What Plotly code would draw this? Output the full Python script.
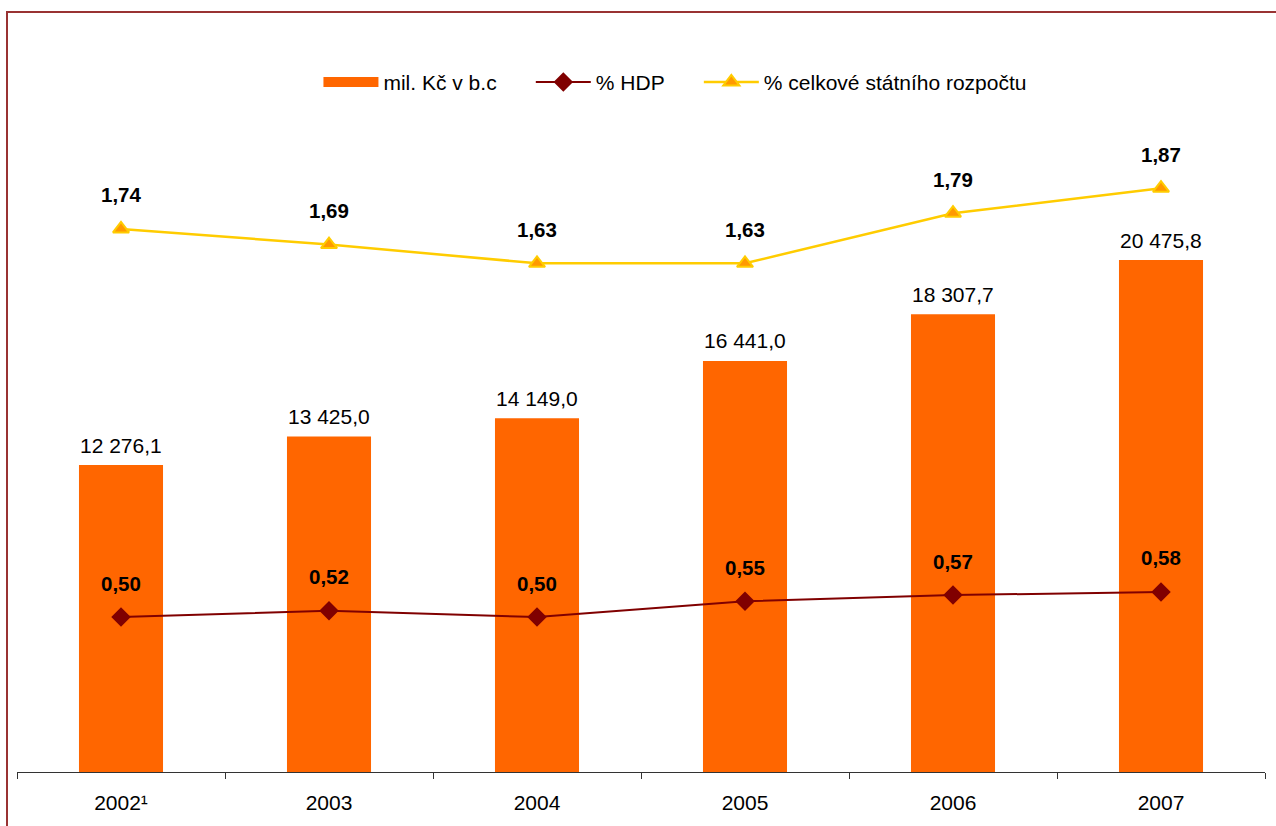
import plotly.graph_objects as go

years = ["2002¹", "2003", "2004", "2005", "2006", "2007"]
mil_kc = [12276.1, 13425.0, 14149.0, 16441.0, 18307.7, 20475.8]
pct_hdp = [0.50, 0.52, 0.50, 0.55, 0.57, 0.58]
pct_rozpocet = [1.74, 1.69, 1.63, 1.63, 1.79, 1.87]

FONT = "Liberation Sans, Arial, sans-serif"
PAD = "\u00a0" * 5

def fmt_thousands(v):
    s = f"{v:,.1f}"
    return s.replace(",", " ").replace(".", ",")

def fmt2(v):
    return f"{v:.2f}".replace(".", ",")

fig = go.Figure()
fig.add_trace(go.Bar(
    x=years, y=mil_kc, name="mil. Kč v b.c",
    marker=dict(color="#FF6600", line=dict(width=0)),
    yaxis="y", showlegend=False, legendgroup="bar",
))
# legend entry for the bars (wide rectangle swatch as in the original)
fig.add_trace(go.Scatter(
    x=[None], y=[None], name="mil. Kč v b.c" + PAD, mode="lines",
    line=dict(color="#FF6600", width=14), legendgroup="bar", hoverinfo="skip",
))
fig.add_trace(go.Scatter(
    x=years, y=pct_hdp, name="% HDP" + PAD, mode="lines+markers",
    line=dict(color="#800000", width=2),
    marker=dict(symbol="diamond", size=15, color="#800000"),
    yaxis="y2",
))
fig.add_trace(go.Scatter(
    x=years, y=pct_rozpocet, name="% celkové státního rozpočtu", mode="lines+markers",
    line=dict(color="#FFCC00", width=2.5),
    marker=dict(symbol="triangle-up", size=14, color="#FF9900",
                line=dict(color="#FFCC00", width=2)),
    yaxis="y2",
))

annotations = []
for i, v in enumerate(mil_kc):
    annotations.append(dict(x=i, y=v, xref="x", yref="y", text=fmt_thousands(v),
                            showarrow=False, yanchor="middle", yshift=20,
                            font=dict(family=FONT, size=21, color="black")))
for i, v in enumerate(pct_hdp):
    annotations.append(dict(x=i, y=v, xref="x", yref="y2", text=f"<b>{fmt2(v)}</b>",
                            showarrow=False, yanchor="middle", yshift=34,
                            font=dict(family=FONT, size=20.5, color="black")))
for i, v in enumerate(pct_rozpocet):
    annotations.append(dict(x=i, y=v, xref="x", yref="y2", text=f"<b>{fmt2(v)}</b>",
                            showarrow=False, yanchor="middle", yshift=34,
                            font=dict(family=FONT, size=20.5, color="black")))

fig.update_layout(
    width=1276, height=826,
    margin=dict(l=17, r=11, t=112, b=54, autoexpand=False),
    paper_bgcolor="white", plot_bgcolor="white",
    font=dict(family=FONT, size=21, color="black"),
    bargap=0.596,
    showlegend=True,
    legend=dict(orientation="h", x=0.5276, xanchor="center", y=1.045, yanchor="middle",
                font=dict(family=FONT, size=21, color="black"),
                itemwidth=55, bgcolor="rgba(0,0,0,0)"),
    xaxis=dict(type="category", range=[-0.5, 5.5], autorange=False,
               showline=True, linecolor="#333333", linewidth=1,
               ticks="outside", tickson="boundaries", ticklen=6, tickcolor="#333333",
               showgrid=False, ticklabelstandoff=12, tickangle=0, automargin=False,
               tickfont=dict(family=FONT, size=21, color="black")),
    yaxis=dict(range=[0, 26400], autorange=False, visible=False, showgrid=False, zeroline=False),
    yaxis2=dict(range=[0.0048, 2.1134], autorange=False, overlaying="y", visible=False,
                showgrid=False, zeroline=False),
    annotations=annotations,
    shapes=[dict(type="rect", xref="paper", yref="paper",
                 x0=-0.00801, x1=1.1, y0=-0.3, y1=1.15152,
                 line=dict(color="#993333", width=2), layer="above")],
)

fig.write_html(
    "out.html",
    config={"displayModeBar": False},
    post_script="document.body.style.margin='0';document.body.style.overflow='hidden';",
)
